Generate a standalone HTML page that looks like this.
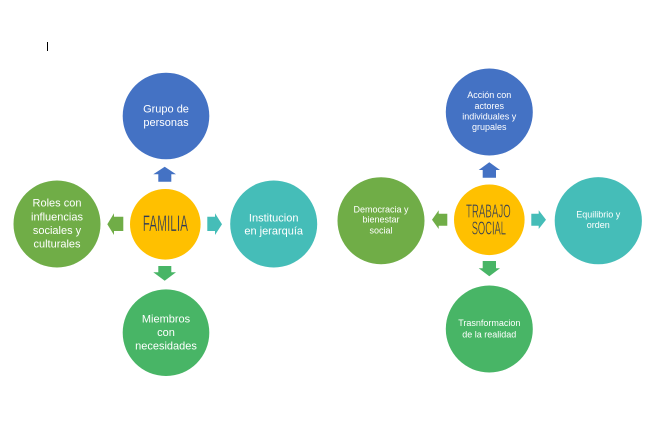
<!DOCTYPE html>
<html>
<head>
<meta charset="utf-8">
<style>
  html,body{margin:0;padding:0;background:#fff;}
  body{width:648px;height:435px;overflow:hidden;}
  svg{display:block;}
  .lbl{font-family:"Liberation Sans",sans-serif;fill:#fff;text-anchor:middle;}
  .l11{font-size:11px;}
  .l9{font-size:9px;}
  .ctr{font-family:"Liberation Sans Narrow","Liberation Sans",sans-serif;fill:#2e3a58;stroke:#ffc000;stroke-width:0.35;}
</style>
</head>
<body>
<svg width="648" height="435" viewBox="0 0 648 435" xmlns="http://www.w3.org/2000/svg">
  <rect x="0" y="0" width="648" height="435" fill="#ffffff"/>
  <!-- cursor -->
  <rect x="47" y="42" width="1" height="9" fill="#000"/>

  <!-- ===== LEFT DIAGRAM ===== -->
  <circle cx="166" cy="116" r="43.3" fill="#4472c4"/>
  <circle cx="57" cy="224" r="43.5" fill="#70ad47"/>
  <circle cx="273.7" cy="224" r="43.5" fill="#45bdb8"/>
  <circle cx="166" cy="332.7" r="43.3" fill="#48b566"/>
  <circle cx="165.3" cy="224.3" r="35.3" fill="#ffc000"/>

  <!-- arrows -->
  <polygon fill="#4472c4" points="164.7,166.7 176,174.3 171.3,174.3 171.3,181.7 158.3,181.7 158.3,174.3 153.3,174.3"/>
  <polygon fill="#70ad47" points="107.3,224.2 114,213.3 114,216.7 123.3,216.7 123.3,231 114,231 114,235"/>
  <polygon fill="#45bdb8" points="222,224.2 215,213.3 215,216.7 207.3,216.7 207.3,231 215,231 215,235"/>
  <polygon fill="#48b566" points="164.7,280.7 176,272.3 171.3,272.3 171.3,266 158.3,266 158.3,272.3 153.3,272.3"/>

  <text class="ctr" x="142.7" y="231" font-size="22" textLength="45.3" lengthAdjust="spacingAndGlyphs">FAMILIA</text>

  <text class="lbl l11" x="166" y="112.5">Grupo de</text>
  <text class="lbl l11" x="166" y="126">personas</text>

  <text class="lbl l11" x="57" y="206.5">Roles con</text>
  <text class="lbl l11" x="57" y="220.5">influencias</text>
  <text class="lbl l11" x="57" y="234">sociales y</text>
  <text class="lbl l11" x="57" y="247.5">culturales</text>

  <text class="lbl l11" x="273.7" y="221.5">Institucion</text>
  <text class="lbl l11" x="273.7" y="234.5">en jerarquía</text>

  <text class="lbl l11" x="166" y="322.5">Miembros</text>
  <text class="lbl l11" x="166" y="336">con</text>
  <text class="lbl l11" x="166" y="349.5">necesidades</text>

  <!-- ===== RIGHT DIAGRAM ===== -->
  <circle cx="489.3" cy="112" r="43.5" fill="#4472c4"/>
  <circle cx="381" cy="220.7" r="43.5" fill="#70ad47"/>
  <circle cx="598.3" cy="220.7" r="43.6" fill="#45bdb8"/>
  <circle cx="489.3" cy="329" r="43.5" fill="#48b566"/>
  <circle cx="489.3" cy="219.8" r="35.3" fill="#ffc000"/>

  <polygon fill="#4472c4" points="489.3,162.3 500,170 496,170 496,177.7 482.7,177.7 482.7,170 478.7,170"/>
  <polygon fill="#70ad47" points="432,219.7 438.7,210.3 438.7,213.7 447.3,213.7 447.3,225.7 438.7,225.7 438.7,229"/>
  <polygon fill="#45bdb8" points="546,219.7 538.7,210.3 538.7,213.7 531.3,213.7 531.3,225.7 538.7,225.7 538.7,229"/>
  <polygon fill="#48b566" points="489.3,276.3 500,268.3 496,268.3 496,261 482.7,261 482.7,268.3 478.7,268.3"/>

  <text class="ctr" x="466" y="217.7" font-size="18.7" textLength="44.7" lengthAdjust="spacingAndGlyphs">TRABAJO</text>
  <text class="ctr" x="471.7" y="234.3" font-size="18.7" textLength="34.3" lengthAdjust="spacingAndGlyphs">SOCIAL</text>

  <text class="lbl l9" x="489.3" y="98">Acción con</text>
  <text class="lbl l9" x="489.3" y="109">actores</text>
  <text class="lbl l9" x="489.3" y="119.5">individuales y</text>
  <text class="lbl l9" x="489.3" y="130">grupales</text>

  <text class="lbl l9" x="381" y="212.3">Democracia y</text>
  <text class="lbl l9" x="381" y="222.7">bienestar</text>
  <text class="lbl l9" x="381" y="233.3">social</text>

  <text class="lbl l9" x="598.3" y="217.3">Equilibrio y</text>
  <text class="lbl l9" x="598.3" y="228">orden</text>

  <text class="lbl l9" x="489.3" y="326">Trasnformacion</text>
  <text class="lbl l9" x="489.3" y="337.3">de la realidad</text>
</svg>
</body>
</html>
